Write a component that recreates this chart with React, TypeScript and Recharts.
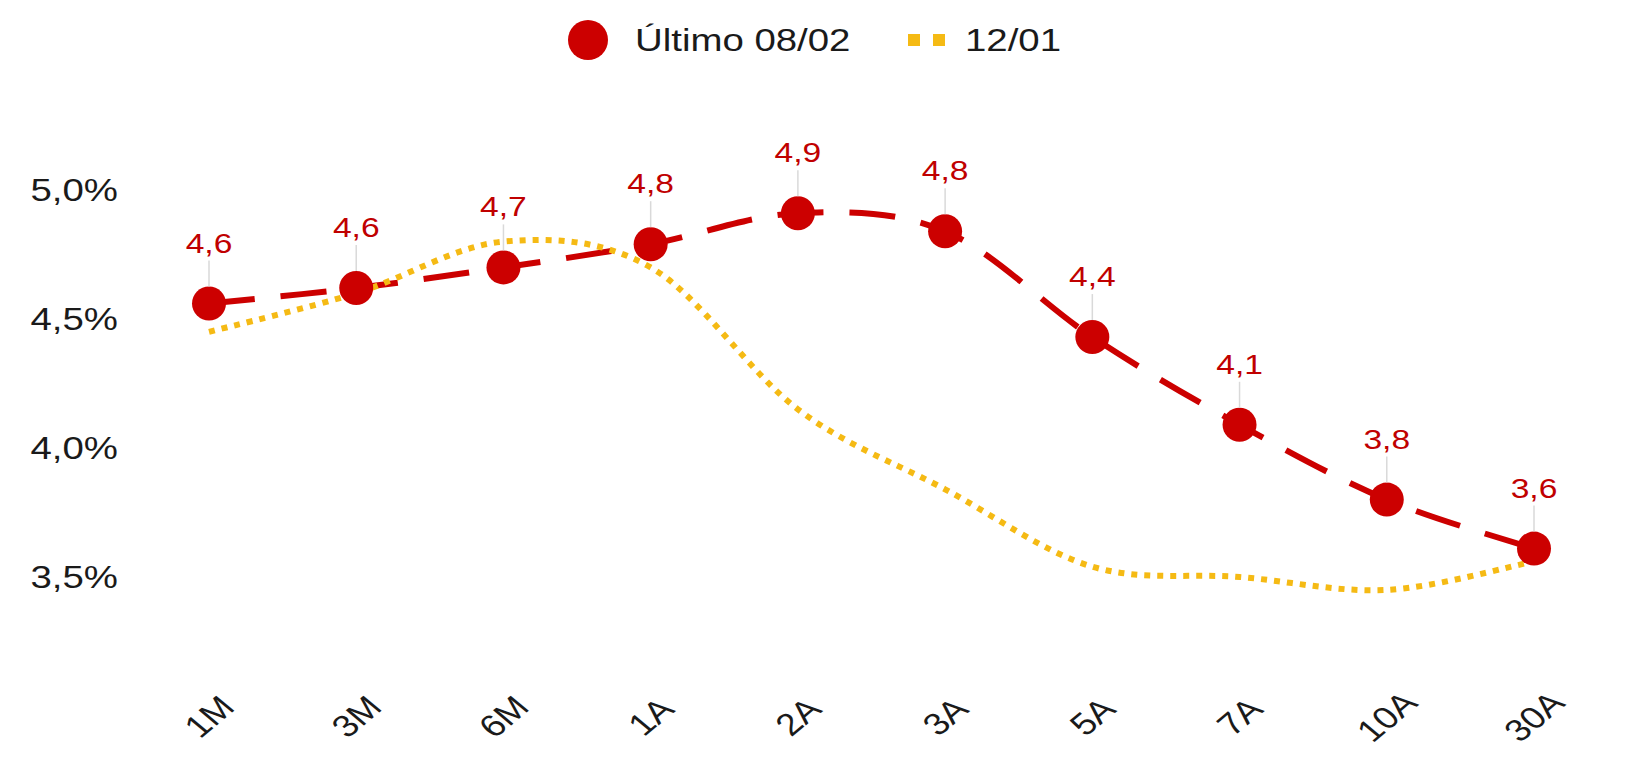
import React from 'react';
import { LineChart, Line, XAxis, YAxis, LabelList } from 'recharts';

// Curva de juros: último vs. referência anterior
const tenors = ['1M', '3M', '6M', '1A', '2A', '3A', '5A', '7A', '10A', '30A'];
const latest = [4.56, 4.62, 4.7, 4.79, 4.91, 4.84, 4.43, 4.09, 3.8, 3.61];
const previous = [4.45, 4.6, 4.8, 4.7, 4.15, 3.84, 3.54, 3.5, 3.45, 3.56];
const yTicks = [3.5, 4.0, 4.5, 5.0];
const seriesNames = ['Último 08/02', '12/01'];

const RED = '#CC0000';
const LABEL_RED = '#C00000';
const YELLOW = '#F5BA14';
const FONT = '"Liberation Sans", Arial, sans-serif';
const TEXT = '#1a1a1a';

const data = tenors.map((tenor, i) => ({ tenor, latest: latest[i], previous: previous[i] }));

// Catmull-Rom style smoothing, like a spreadsheet "smoothed line"
const smoothCurve: any = (context: any) => {
  let pts: [number, number][] = [];
  return {
    areaStart() {},
    areaEnd() {},
    lineStart() {
      pts = [];
    },
    point(x: number, y: number) {
      pts.push([+x, +y]);
    },
    lineEnd() {
      const n = pts.length;
      if (!n) return;
      context.moveTo(pts[0][0], pts[0][1]);
      for (let i = 0; i < n - 1; i++) {
        const p0 = pts[i - 1] || pts[i];
        const p1 = pts[i];
        const p2 = pts[i + 1];
        const p3 = pts[i + 2] || p2;
        context.bezierCurveTo(
          p1[0] + (p2[0] - p0[0]) / 6,
          p1[1] + (p2[1] - p0[1]) / 6,
          p2[0] - (p3[0] - p1[0]) / 6,
          p2[1] - (p3[1] - p1[1]) / 6,
          p2[0],
          p2[1]
        );
      }
    },
  };
};

const fmt = (v: number) => v.toFixed(1).replace('.', ',');

const YTick = (props: any) => {
  const { x, y, payload } = props;
  return (
    <text
      transform={`translate(${x - 89},${y}) scale(1.2,1)`}
      textAnchor="end"
      dy={11}
      fontSize={32}
      fontFamily={FONT}
      fill={TEXT}
    >
      {fmt(payload.value) + '%'}
    </text>
  );
};

const XTick = (props: any) => {
  const { x, y, payload } = props;
  return (
    <text
      transform={`translate(${x},${y + 67}) scale(1.2,1) rotate(-45)`}
      textAnchor="middle"
      dominantBaseline="central"
      fontSize={31}
      fontFamily={FONT}
      fill={TEXT}
    >
      {payload.value}
    </text>
  );
};

const ValueLabel = (props: any) => {
  const { x, y, value } = props;
  return (
    <g>
      <line x1={x} x2={x} y1={y - 43} y2={y - 17} stroke="#d9d9d9" strokeWidth={1.5} />
      <text
        transform={`translate(${x},${y - 51}) scale(1.2,1)`}
        textAnchor="middle"
        fontSize={28}
        fontFamily={FONT}
        fill={LABEL_RED}
      >
        {fmt(value)}
      </text>
    </g>
  );
};

export default function App() {
  return (
    <div style={{ position: 'relative', width: 1610, height: 747 }}>
      <svg width={1610} height={80} style={{ position: 'absolute', left: 0, top: 0 }}>
        <circle cx={580} cy={32} r={20} fill={RED} />
        <text transform="translate(627,43) scale(1.2,1)" fontSize={32} fontFamily={FONT} fill={TEXT}>
          {seriesNames[0]}
        </text>
        <line x1={900} x2={938} y1={32} y2={32} stroke={YELLOW} strokeWidth={12} strokeDasharray="12 13" />
        <text transform="translate(957,43) scale(1.2,1)" fontSize={32} fontFamily={FONT} fill={TEXT}>
          {seriesNames[1]}
        </text>
      </svg>
      <LineChart
        width={1610}
        height={747}
        data={data}
        margin={{ top: 117.5, right: 84, bottom: 0, left: 0 }}
      >
        <XAxis
          dataKey="tenor"
          height={113.5}
          axisLine={false}
          tickLine={false}
          interval={0}
          tick={<XTick />}
        />
        <YAxis
          width={201}
          type="number"
          domain={[3.25, 5.25]}
          ticks={yTicks}
          axisLine={false}
          tickLine={false}
          tickSize={0}
          tick={<YTick />}
        />
        <Line
          dataKey="latest"
          name={seriesNames[0]}
          type={smoothCurve}
          stroke={RED}
          strokeWidth={6}
          strokeDasharray="46 26"
          dot={false}
          activeDot={false}
          isAnimationActive={false}
        />
        <Line
          dataKey="previous"
          name={seriesNames[1]}
          type={smoothCurve}
          stroke={YELLOW}
          strokeWidth={6}
          strokeDasharray="6 7"
          dot={false}
          activeDot={false}
          isAnimationActive={false}
        />
        <Line
          dataKey="latest"
          stroke="none"
          type={smoothCurve}
          dot={{ r: 17, fill: RED, stroke: 'none' }}
          activeDot={false}
          legendType="none"
          isAnimationActive={false}
        >
          <LabelList dataKey="latest" content={<ValueLabel />} />
        </Line>
      </LineChart>
    </div>
  );
}
